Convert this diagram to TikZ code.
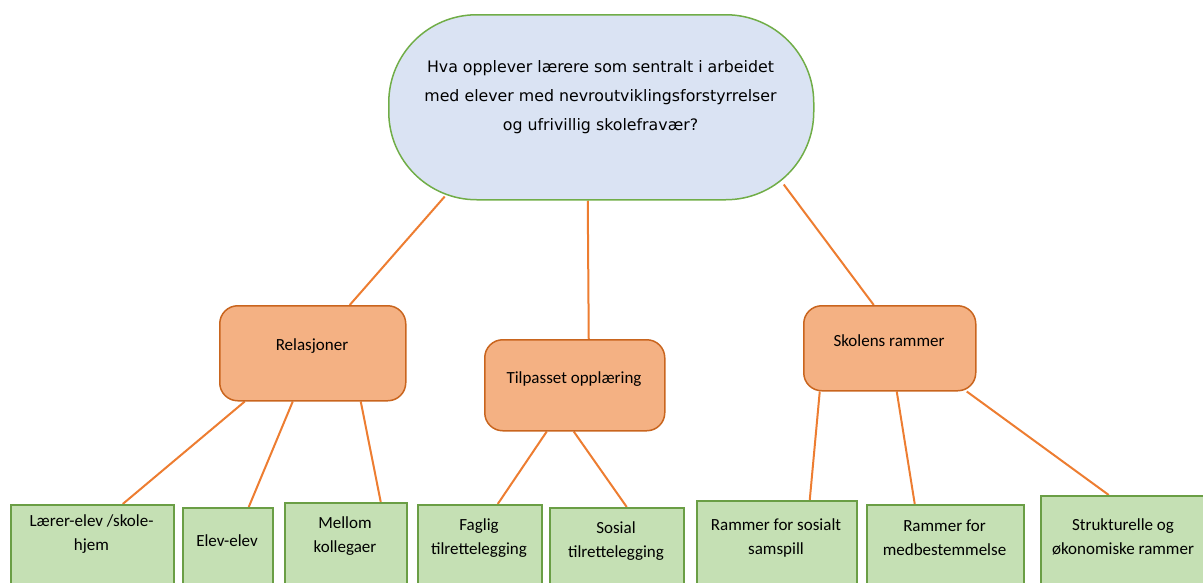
\documentclass[tikz,border=0pt]{standalone}
\usepackage{fontspec}
\setmainfont{Carlito}
\newfontfamily\verdanalike{DejaVu Sans}
\usetikzlibrary{backgrounds,calc}
\definecolor{topfill}{HTML}{DAE3F3}
\definecolor{topdraw}{HTML}{70AD47}
\definecolor{orfill}{HTML}{F4B183}
\definecolor{ordraw}{HTML}{C9651E}
\definecolor{grfill}{HTML}{C5E0B4}
\definecolor{grdraw}{HTML}{6A9E45}
\definecolor{linecol}{HTML}{ED7D31}
\tikzset{
  topbox/.style={draw=topdraw, fill=topfill, line width=1.5pt, rounded corners=88pt, anchor=north west, inner sep=0pt},
  orbox/.style={draw=ordraw, fill=orfill, line width=1.5pt, rounded corners=18pt, anchor=north west, inner sep=0pt},
  grbox/.style={draw=grdraw, fill=grfill, line width=1.5pt, anchor=north west, inner sep=0pt},
  txt/.style={align=center, inner sep=0pt, font=\fontsize{17}{24}\selectfont},
  toptxt/.style={align=center, inner sep=0pt, font=\verdanalike\fontsize{15.8}{29}\selectfont},
  conn/.style={draw=linecol, line width=2pt},
}
\begin{document}
\begin{tikzpicture}[x=1pt,y=-1pt]
\useasboundingbox (0,0) rectangle (1203,582);
\clip (0,0) rectangle (1203,582);
% top
\node[topbox, minimum width=425pt, minimum height=185pt] (top) at (388,14) {};
\node[toptxt] (toptext) at (600.5,97) {Hva opplever lærere som sentralt i arbeidet\\med elever med nevroutviklingsforstyrrelser\\og ufrivillig skolefravær?};
% middle
\node[orbox, minimum width=186pt, minimum height=95pt] (rel) at (219,305) {};
\node[txt] (reltext) at (312,346) {Relasjoner};
\node[orbox, minimum width=180pt, minimum height=91pt] (tilp) at (484,339) {};
\node[txt] (tilptext) at (574,379) {Tilpasset opplæring};
\node[orbox, minimum width=172pt, minimum height=85pt] (sk) at (803,305) {};
\node[txt] (sktext) at (889,341) {Skolens rammer};
% bottom
\node[grbox, minimum width=163pt, minimum height=100pt] (lae) at (10,504) {};
\node[txt] (laetext) at (91.5,534) {Lærer-elev /skole-\\hjem};
\node[grbox, minimum width=90pt, minimum height=100pt] (ele) at (182,507) {};
\node[txt] (eletext) at (227,541) {Elev-elev};
\node[grbox, minimum width=122pt, minimum height=100pt] (mel) at (284,502) {};
\node[txt] (meltext) at (345,536) {Mellom\\kollegaer};
\node[grbox, minimum width=124pt, minimum height=100pt] (fag) at (417,504) {};
\node[txt] (fagtext) at (479,538.5) {Faglig\\tilrettelegging};
\node[grbox, minimum width=134pt, minimum height=100pt] (sos) at (549,507) {};
\node[txt] (sostext) at (616,541) {Sosial\\tilrettelegging};
\node[grbox, minimum width=160pt, minimum height=100pt] (rsos) at (696,500) {};
\node[txt] (rsostext) at (776,537.5) {Rammer for sosialt\\samspill};
\node[grbox, minimum width=157pt, minimum height=100pt] (med) at (866,504) {};
\node[txt] (medtext) at (944.5,537.5) {Rammer for\\medbestemmelse};
\node[grbox, minimum width=166pt, minimum height=100pt] (str) at (1040,495) {};
\node[txt] (strtext) at (1123,537) {Strukturelle og\\økonomiske rammer};
\begin{scope}[on background layer]
\draw[conn] ([xshift=-156.5pt,yshift=4pt]top.south) -- ([xshift=37pt]rel.north);
\draw[conn] ([xshift=-13.5pt]top.south) -- ([xshift=14pt]tilp.north);
\draw[conn] ([xshift=182.5pt,yshift=16pt]top.south) -- ([xshift=-16pt]sk.north);
\draw[conn] ([xshift=-68pt]rel.south) -- ([xshift=30.5pt]lae.north);
\draw[conn] ([xshift=-20pt]rel.south) -- ([xshift=21pt]ele.north);
\draw[conn] ([xshift=48pt]rel.south) -- ([xshift=35pt]mel.north);
\draw[conn] ([xshift=-28pt]tilp.south) -- ([xshift=18pt]fag.north);
\draw[conn] ([xshift=-1pt]tilp.south) -- ([xshift=10pt]sos.north);
\draw[conn] ([xshift=-70pt]sk.south) -- ([xshift=33pt]rsos.north);
\draw[conn] ([xshift=7pt]sk.south) -- ([xshift=-30.5pt]med.north);
\draw[conn] ([xshift=77pt]sk.south) -- ([xshift=-15pt]str.north);
\end{scope}
\end{tikzpicture}
\end{document}
